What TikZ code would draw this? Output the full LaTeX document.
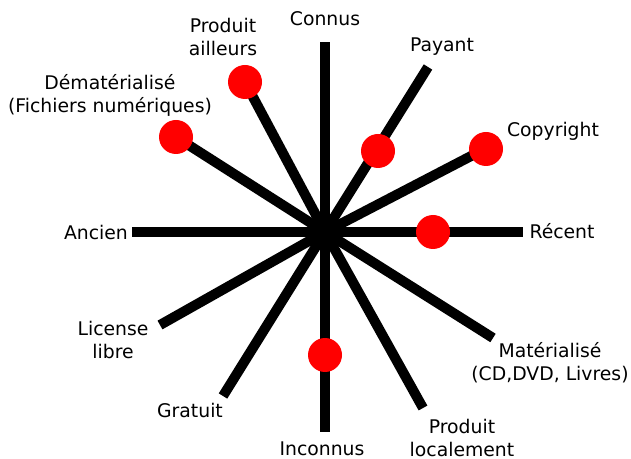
\documentclass[tikz,border=0pt]{standalone}
\usepackage{fontspec}
\setmainfont{DejaVu Sans}
\usetikzlibrary{calc}

\begin{document}
\begin{tikzpicture}[x=0.5pt,y=-0.5pt,
  axe/.style={line width=5pt},
  point/.style={circle,fill=red,inner sep=0pt,minimum size=17pt},
  etiq/.style={align=center,font=\fontsize{9.4}{11.5}\selectfont,inner sep=0pt}]
\useasboundingbox (0,0) rectangle (631,459);

\coordinate (o) at (325,232);

\coordinate (connus) at (325,42);
\coordinate (inconnus) at (325,432);
\coordinate (ancien) at (132,232);
\coordinate (recent) at (523,232);
\coordinate (payant) at (428,67);
\coordinate (gratuit) at (223,396);
\coordinate (copyright) at (500,141);
\coordinate (libre) at (160,325);
\coordinate (ailleurs) at (245,82);
\coordinate (localement) at (423,408);
\coordinate (demat) at (176,137);
\coordinate (mat) at (493,338);

\draw[axe] (o) -- (connus);
\draw[axe] (o) -- (inconnus);
\draw[axe] (o) -- (ancien);
\draw[axe] (o) -- (recent);
\draw[axe] (o) -- (payant);
\draw[axe] (o) -- (gratuit);
\draw[axe] (o) -- (copyright);
\draw[axe] (o) -- (libre);
\draw[axe] (o) -- (ailleurs);
\draw[axe] (o) -- (localement);
\draw[axe] (o) -- (demat);
\draw[axe] (o) -- (mat);

% les points rouges
\node[point] (p1) at (ailleurs) {};
\node[point] (p2) at (demat) {};
\node[point] (p3) at (378,151) {};
\node[point] (p4) at (486,149) {};
\node[point] (p5) at (433,232) {};
\node[point] (p6) at (325,355) {};

\node[etiq] (lconnus) at (325,19) {Connus};
\node[etiq] (linconnus) at (322,449) {Inconnus};
\node[etiq] (lancien) at (96,232) {Ancien};
\node[etiq] (lrecent) at (562,231) {Récent};
\node[etiq] (lpayant) at (442,47) {Payant};
\node[etiq] (lgratuit) at (190,410) {Gratuit};
\node[etiq] (lcopyright) at (553,131) {Copyright};
\node[etiq] (llibre) at (113,340) {License\\libre};
\node[etiq] (lailleurs) at (223,37) {Produit\\ailleurs};
\node[etiq] (llocalement) at (462,438) {Produit\\localement};
\node[etiq] (ldemat) at (110,95) {Dématérialisé\\(Fichiers numériques)};
\node[etiq] (lmat) at (550,363) {Matérialisé\\(CD,DVD, Livres)};

\end{tikzpicture}
\end{document}
